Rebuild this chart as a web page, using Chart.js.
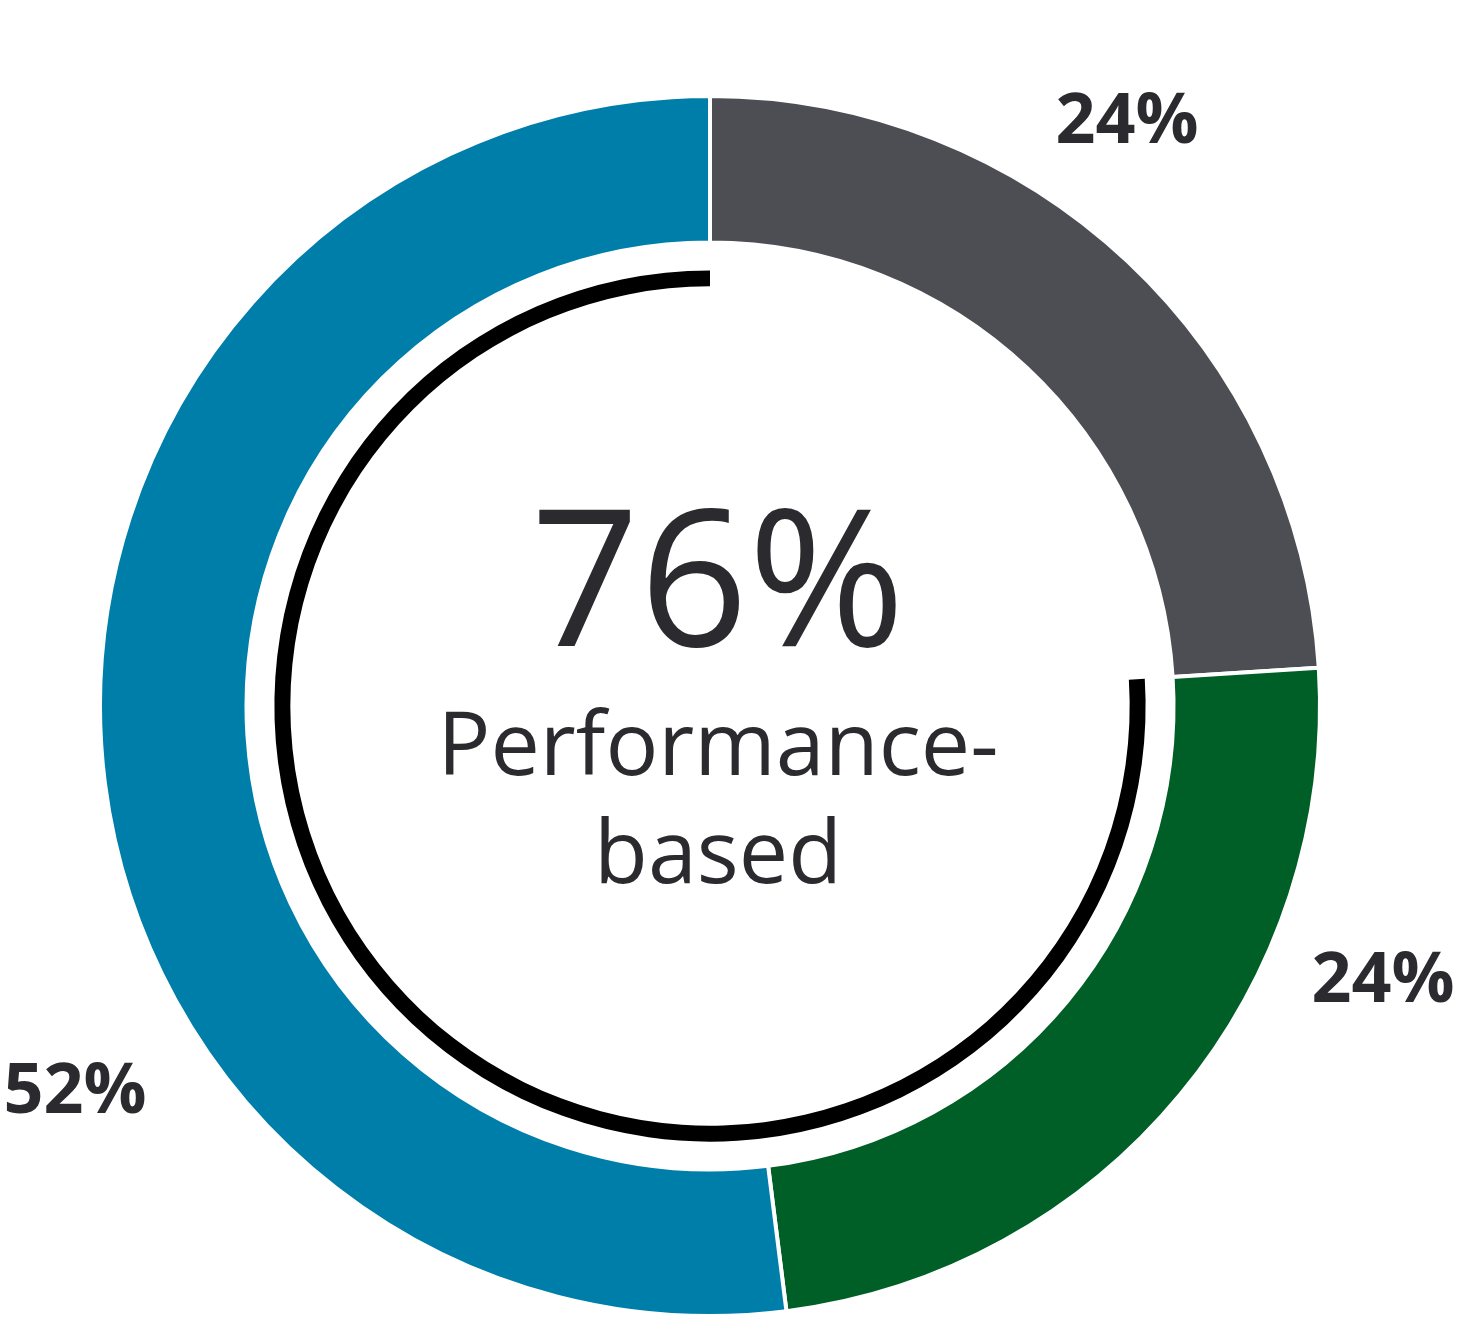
<!DOCTYPE html>
<html><head><meta charset="utf-8">
<script src="https://cdn.jsdelivr.net/npm/chart.js@4"></script>
<style>html,body{margin:0;padding:0;background:#fff}#w{width:1460px;height:1327px}</style>
</head><body><div id="w"><canvas id="c"></canvas></div>
<script>
const categories = ["Other", "Performance-based A", "Performance-based B"];
const values = [24, 24, 52];
const valueLabels = ["24%", "24%", "52%"];
const colors = ["#4d4e53", "#005e27", "#007eaa"];
const performanceShare = [24, 76];
const centerValue = "76%";
const centerLines = ["Performance-", "based"];

const labelPos = [[1127,123],[1383,982],[75,1093]];
const textPlugin = {
  id: 'txt',
  afterDraw(chart) {
    const ctx = chart.ctx;
    ctx.save();
    ctx.fillStyle = '#2b2b2f';
    ctx.textAlign = 'center';
    ctx.textBaseline = 'middle';
    ctx.font = 'bold 70px "Open Sans"';
    valueLabels.forEach((t, i) => ctx.fillText(t, labelPos[i][0], labelPos[i][1]));
    ctx.font = '190px "Open Sans"';
    ctx.fillText(centerValue, 718, 592);
    ctx.font = '88px "Open Sans"';
    ctx.fillText(centerLines[0], 718, 750);
    ctx.fillText(centerLines[1], 718, 858);
    ctx.restore();
  }
};

new Chart(document.getElementById('c'), {
  type: 'doughnut',
  data: {
    labels: categories,
    datasets: [
      { data: values, backgroundColor: colors, borderColor: '#fff', borderWidth: 4, weight: 147 },
      { data: performanceShare, backgroundColor: ['rgba(0,0,0,0)','rgba(0,0,0,0)'], borderWidth: 0, weight: 28 },
      { data: performanceShare, backgroundColor: ['rgba(0,0,0,0)','#000'], borderWidth: 0, weight: 16 }
    ]
  },
  options: {
    responsive: true, maintainAspectRatio: false, animation: false,
    cutout: '68.8%',
    layout: { padding: { left: 98, right: 138, top: 94, bottom: 9 } },
    plugins: { legend: { display: false }, tooltip: { enabled: false } }
  },
  plugins: [textPlugin]
});
</script></body></html>
